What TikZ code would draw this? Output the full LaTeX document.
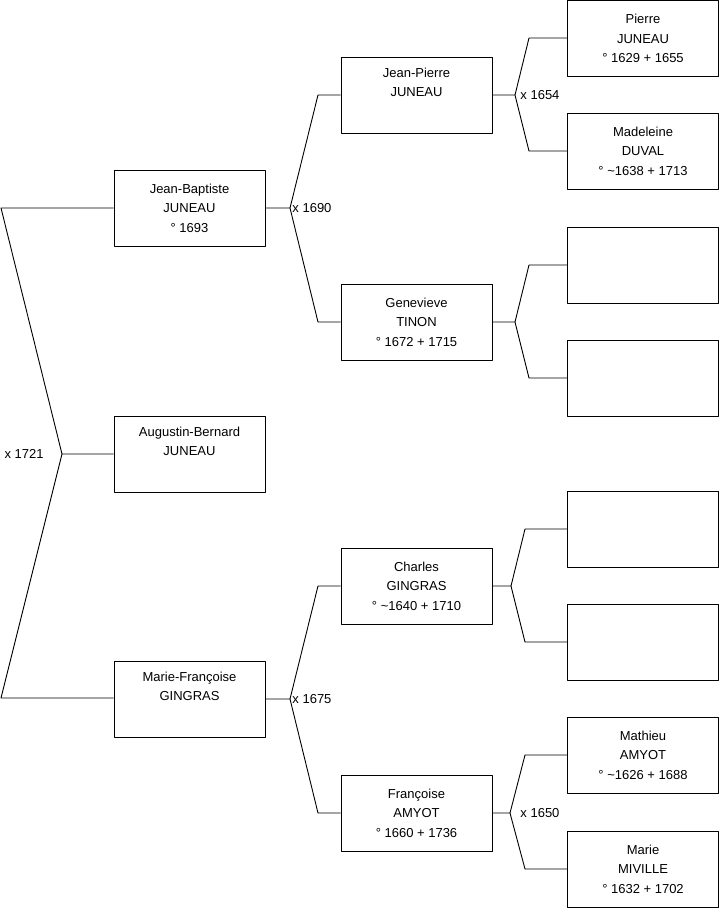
\documentclass[tikz,border=0pt]{standalone}
\usepackage{fontspec}
\setmainfont{Liberation Sans}
\begin{document}
\begin{tikzpicture}[x=1pt,y=-1pt,line width=.9pt,line join=round,
  font=\fontsize{13}{19.5}\selectfont,
  person/.style={draw,minimum width=151pt,minimum height=76pt,align=center,inner sep=0pt},
  wedding/.style={inner sep=0pt}]
  \useasboundingbox (0,0) rectangle (719,908);
  % first generation
  \node[person] (augustin) at (189.5,454) {Augustin-Bernard\\JUNEAU\\\strut};
  % parents
  \node[person] (jeanbaptiste) at (189.5,208) {Jean-Baptiste\\JUNEAU\\° 1693};
  \node[person] (mariefrancoise) at (189.5,699) {Marie-Françoise\\GINGRAS\\\strut};
  % grandparents
  \node[person] (jeanpierre) at (416.5,95) {Jean-Pierre\\JUNEAU\\\strut};
  \node[person] (genevieve) at (416.5,322) {Genevieve\\TINON\\° 1672 + 1715};
  \node[person] (charles) at (416.5,586) {Charles\\GINGRAS\\° \textasciitilde1640 + 1710};
  \node[person] (francoise) at (416.5,813) {Françoise\\AMYOT\\° 1660 + 1736};
  % great-grandparents
  \node[person] (pierre) at (643,38.5) {Pierre\\JUNEAU\\° 1629 + 1655};
  \node[person] (madeleine) at (643,151) {Madeleine\\DUVAL\\° \textasciitilde1638 + 1713};
  \node[person] (tinonf) at (643,265) {};
  \node[person] (tinonm) at (643,378) {};
  \node[person] (gingrasf) at (643,529) {};
  \node[person] (gingrasm) at (643,642) {};
  \node[person] (mathieu) at (643,755) {Mathieu\\AMYOT\\° \textasciitilde1626 + 1688};
  \node[person] (marie) at (643,869) {Marie\\MIVILLE\\° 1632 + 1702};
  % forks
  \coordinate (f0) at (62,454);
  \coordinate (f0a) at (1,208);
  \coordinate (f0b) at (1,698);
  \coordinate (f1) at (290,208);
  \coordinate (f1a) at (318,95);
  \coordinate (f1b) at (318,322);
  \coordinate (f2) at (290,699);
  \coordinate (f2a) at (318,586);
  \coordinate (f2b) at (318,813);
  \coordinate (f3) at (515,95);
  \coordinate (f3a) at (529,38);
  \coordinate (f3b) at (529,151);
  \coordinate (f4) at (515,322);
  \coordinate (f4a) at (529,265);
  \coordinate (f4b) at (529,378);
  \coordinate (f5) at (511,586);
  \coordinate (f5a) at (525,529);
  \coordinate (f5b) at (525,642);
  \coordinate (f6) at (510,813);
  \coordinate (f6a) at (525,755);
  \coordinate (f6b) at (525,869);
  \draw (augustin.west) -- (f0) -- (f0a) -- (f0a -| jeanbaptiste.west);
  \draw (f0) -- (f0b) -- (f0b -| mariefrancoise.west);
  \draw (jeanbaptiste.east) -- (f1) -- (f1a) -- (jeanpierre.west);
  \draw (f1) -- (f1b) -- (genevieve.west);
  \draw (mariefrancoise.east) -- (f2) -- (f2a) -- (charles.west);
  \draw (f2) -- (f2b) -- (francoise.west);
  \draw (jeanpierre.east) -- (f3) -- (f3a) -- (f3a -| pierre.west);
  \draw (f3) -- (f3b) -- (f3b -| madeleine.west);
  \draw (genevieve.east) -- (f4) -- (f4a) -- (tinonf.west);
  \draw (f4) -- (f4b) -- (tinonm.west);
  \draw (charles.east) -- (f5) -- (f5a) -- (gingrasf.west);
  \draw (f5) -- (f5b) -- (gingrasm.west);
  \draw (francoise.east) -- (f6) -- (f6a) -- (mathieu.west);
  \draw (f6) -- (f6b) -- (marie.west);
  % weddings
  \node[wedding,anchor=east] (w0) at (44,454) {x 1721};
  \node[wedding,anchor=west] (w1) at (292,208) {x 1690};
  \node[wedding,anchor=west] (w2) at (292,699) {x 1675};
  \node[wedding,anchor=west] (w3) at (520,95) {x 1654};
  \node[wedding,anchor=west] (w6) at (520,813) {x 1650};
\end{tikzpicture}
\end{document}
